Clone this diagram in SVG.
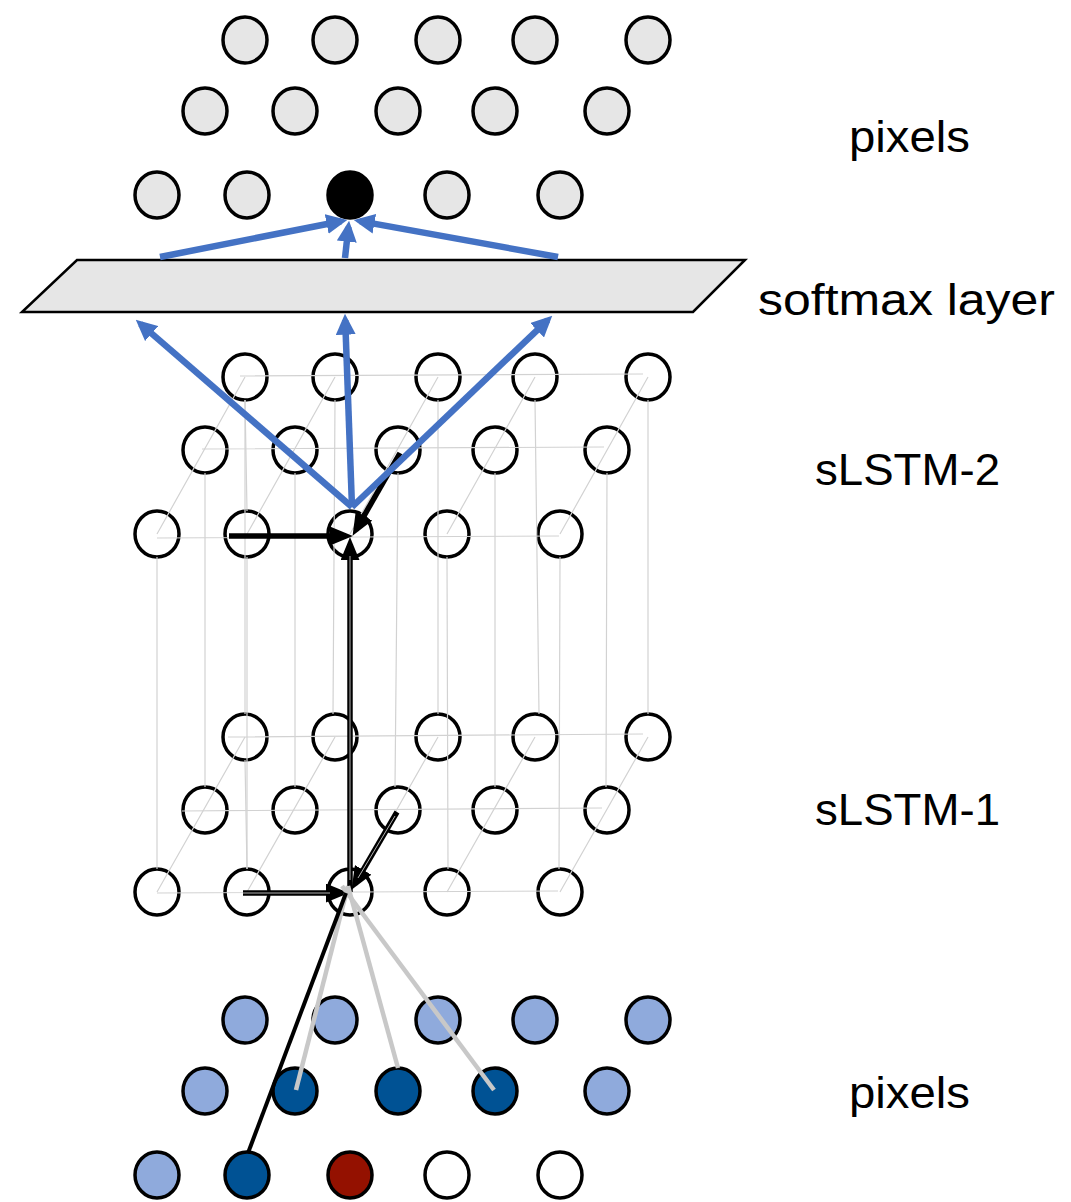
<svg xmlns="http://www.w3.org/2000/svg" width="1071" height="1202" viewBox="0 0 1071 1202">
  <style>
    .node { stroke: #000; stroke-width: 3.5; }
    .px { fill: #e6e6e6; }
    .tgt { fill: #000; }
    .cell { fill: none; }
    .lt { fill: #8faadc; }
    .dk { fill: #005294; }
    .red { fill: #941100; }
    .wh { fill: #fff; }
    .grid { stroke: #d2d2d2; stroke-width: 1.2; fill: none; }
    .blue { stroke: #4472c4; stroke-width: 6.5; fill: none; marker-end: url(#head-blue); }
    .blk { stroke: #000; stroke-width: 5.5; fill: none; marker-end: url(#head-black); }
    .stripe { stroke: #e0e0e0; stroke-width: 0.8; fill: none; }
    .dep-black { stroke: #000; stroke-width: 4; }
    .dep-gray { stroke: #c8c8c8; stroke-width: 4.5; }
    .label { font-family: "Liberation Sans", Arial, sans-serif; font-size: 45px; fill: #000; }
  </style>
  <defs>
    <marker id="head-blue" viewBox="0 0 10 10" refX="7" refY="5" markerUnits="userSpaceOnUse" markerWidth="21" markerHeight="20" orient="auto" preserveAspectRatio="none">
      <path d="M0,0 L10,5 L0,10 z" fill="#4472c4"/>
    </marker>
    <marker id="head-black" viewBox="0 0 10 10" refX="7" refY="5" markerUnits="userSpaceOnUse" markerWidth="23" markerHeight="19" orient="auto" preserveAspectRatio="none">
      <path d="M0,0 L10,5 L0,10 z" fill="#000"/>
    </marker>
  </defs>

  <!-- output pixels -->
  <g id="top-pixels">
    <g id="top-a1"><ellipse class="node px" cx="245" cy="40" rx="22" ry="23"/></g>
    <g id="top-a2"><ellipse class="node px" cx="335" cy="40" rx="22" ry="23"/></g>
    <g id="top-a3"><ellipse class="node px" cx="438" cy="40" rx="22" ry="23"/></g>
    <g id="top-a4"><ellipse class="node px" cx="535" cy="40" rx="22" ry="23"/></g>
    <g id="top-a5"><ellipse class="node px" cx="648" cy="40" rx="22" ry="23"/></g>
    <g id="top-b1"><ellipse class="node px" cx="205" cy="111" rx="22" ry="23"/></g>
    <g id="top-b2"><ellipse class="node px" cx="295" cy="111" rx="22" ry="23"/></g>
    <g id="top-b3"><ellipse class="node px" cx="398" cy="111" rx="22" ry="23"/></g>
    <g id="top-b4"><ellipse class="node px" cx="495" cy="111" rx="22" ry="23"/></g>
    <g id="top-b5"><ellipse class="node px" cx="607" cy="111" rx="22" ry="23"/></g>
    <g id="top-c1"><ellipse class="node px" cx="157" cy="195" rx="22" ry="23"/></g>
    <g id="top-c2"><ellipse class="node px" cx="247" cy="195" rx="22" ry="23"/></g>
    <g id="top-c3"><ellipse class="node tgt" cx="350" cy="195" rx="22" ry="23"/></g>
    <g id="top-c4"><ellipse class="node px" cx="447" cy="195" rx="22" ry="23"/></g>
    <g id="top-c5"><ellipse class="node px" cx="560" cy="195" rx="22" ry="23"/></g>
  </g>

  <!-- softmax plane -->
  <g id="softmax">
    <polygon points="77,260 745,260 693,312 22,312" fill="#e6e6e6" stroke="#000" stroke-width="2.5" stroke-linejoin="miter"/>
  </g>

  <!-- sLSTM-2 cells -->
  <g id="lstm2">
    <g id="l2-a1"><ellipse class="node cell" cx="245" cy="377" rx="22" ry="23"/></g>
    <g id="l2-a2"><ellipse class="node cell" cx="335" cy="377" rx="22" ry="23"/></g>
    <g id="l2-a3"><ellipse class="node cell" cx="438" cy="377" rx="22" ry="23"/></g>
    <g id="l2-a4"><ellipse class="node cell" cx="535" cy="377" rx="22" ry="23"/></g>
    <g id="l2-a5"><ellipse class="node cell" cx="648" cy="377" rx="22" ry="23"/></g>
    <g id="l2-b1"><ellipse class="node cell" cx="205" cy="450" rx="22" ry="23"/></g>
    <g id="l2-b2"><ellipse class="node cell" cx="295" cy="450" rx="22" ry="23"/></g>
    <g id="l2-b3"><ellipse class="node cell" cx="398" cy="450" rx="22" ry="23"/></g>
    <g id="l2-b4"><ellipse class="node cell" cx="495" cy="450" rx="22" ry="23"/></g>
    <g id="l2-b5"><ellipse class="node cell" cx="607" cy="450" rx="22" ry="23"/></g>
    <g id="l2-c1"><ellipse class="node cell" cx="157" cy="534" rx="22" ry="23"/></g>
    <g id="l2-c2"><ellipse class="node cell" cx="247" cy="534" rx="22" ry="23"/></g>
    <g id="l2-c3"><ellipse class="node cell" cx="350" cy="534" rx="22" ry="23" stroke-width="2.2"/></g>
    <g id="l2-c4"><ellipse class="node cell" cx="447" cy="534" rx="22" ry="23"/></g>
    <g id="l2-c5"><ellipse class="node cell" cx="560" cy="534" rx="22" ry="23"/></g>
  </g>

  <!-- sLSTM-1 cells -->
  <g id="lstm1">
    <g id="l1-a1"><ellipse class="node cell" cx="245" cy="737" rx="22" ry="23"/></g>
    <g id="l1-a2"><ellipse class="node cell" cx="335" cy="737" rx="22" ry="23"/></g>
    <g id="l1-a3"><ellipse class="node cell" cx="438" cy="737" rx="22" ry="23"/></g>
    <g id="l1-a4"><ellipse class="node cell" cx="535" cy="737" rx="22" ry="23"/></g>
    <g id="l1-a5"><ellipse class="node cell" cx="648" cy="737" rx="22" ry="23"/></g>
    <g id="l1-b1"><ellipse class="node cell" cx="205" cy="810" rx="22" ry="23"/></g>
    <g id="l1-b2"><ellipse class="node cell" cx="295" cy="810" rx="22" ry="23"/></g>
    <g id="l1-b3"><ellipse class="node cell" cx="398" cy="810" rx="22" ry="23"/></g>
    <g id="l1-b4"><ellipse class="node cell" cx="495" cy="810" rx="22" ry="23"/></g>
    <g id="l1-b5"><ellipse class="node cell" cx="607" cy="810" rx="22" ry="23"/></g>
    <g id="l1-c1"><ellipse class="node cell" cx="157" cy="892" rx="22" ry="23"/></g>
    <g id="l1-c2"><ellipse class="node cell" cx="247" cy="892" rx="22" ry="23"/></g>
    <g id="l1-c3"><ellipse class="node cell" cx="350" cy="892" rx="22" ry="23" stroke-width="2.2"/></g>
    <g id="l1-c4"><ellipse class="node cell" cx="447" cy="892" rx="22" ry="23"/></g>
    <g id="l1-c5"><ellipse class="node cell" cx="560" cy="892" rx="22" ry="23"/></g>
  </g>

  <!-- input pixels -->
  <g id="in-pixels">
    <g id="in-a1"><ellipse class="node lt" cx="245" cy="1020" rx="22" ry="23"/></g>
    <g id="in-a2"><ellipse class="node lt" cx="335" cy="1020" rx="22" ry="23"/></g>
    <g id="in-a3"><ellipse class="node lt" cx="438" cy="1020" rx="22" ry="23"/></g>
    <g id="in-a4"><ellipse class="node lt" cx="535" cy="1020" rx="22" ry="23"/></g>
    <g id="in-a5"><ellipse class="node lt" cx="648" cy="1020" rx="22" ry="23"/></g>
    <g id="in-b1"><ellipse class="node lt" cx="205" cy="1091" rx="22" ry="23"/></g>
    <g id="in-b2"><ellipse class="node dk" cx="295" cy="1091" rx="22" ry="23"/></g>
    <g id="in-b3"><ellipse class="node dk" cx="398" cy="1091" rx="22" ry="23"/></g>
    <g id="in-b4"><ellipse class="node dk" cx="495" cy="1091" rx="22" ry="23"/></g>
    <g id="in-b5"><ellipse class="node lt" cx="607" cy="1091" rx="22" ry="23"/></g>
    <g id="in-c1"><ellipse class="node lt" cx="157" cy="1175" rx="22" ry="23"/></g>
    <g id="in-c2"><ellipse class="node dk" cx="247" cy="1175" rx="22" ry="23"/></g>
    <g id="in-c3"><ellipse class="node red" cx="350" cy="1175" rx="22" ry="23"/></g>
    <g id="in-c4"><ellipse class="node wh" cx="447" cy="1175" rx="22" ry="23"/></g>
    <g id="in-c5"><ellipse class="node wh" cx="560" cy="1175" rx="22" ry="23"/></g>
  </g>

  <g id="connectors">
    <!-- cell grids -->
    <g id="grid">
      <path class="grid" d="M240,376 L643,374 M202,449 L604,447 M157,538 L559,536"/>
      <path class="grid" d="M157,534 L245,377 M247,534 L335,377 M350,534 L438,377 M447,534 L535,377 M560,534 L648,377"/>
      <path class="grid" d="M245,400 L247,511 M245,760 L247,869"/>
      <path class="grid" d="M228,737 L643,734 M182,811 L602,808 M157,893 L558,891"/>
      <path class="grid" d="M157,892 L245,737 M247,892 L335,737 M350,892 L438,737 M447,892 L535,737 M560,892 L648,737"/>
      <path class="grid" d="M245,400 L245,714 M335,400 L333,714 M438,400 L438,714 M535,400 L539,714 M648,400 L648,714"/>
      <path class="grid" d="M205,473 L205,787 M295,473 L295,787 M398,473 L395,787 M495,473 L495,787 M607,473 L606,787"/>
      <path class="grid" d="M157,557 L157,869 M247,557 L247,869 M350,557 L350,869 M447,557 L448,869 M560,557 L559,869"/>
    </g>

    <!-- recurrent and layer-to-layer flows -->
    <g id="state-arrows">
      <line class="blk" x1="229" y1="536" x2="346" y2="536"/>
      <line class="blk" x1="400" y1="453" x2="356" y2="529.8"/>
      <line class="blk" x1="350" y1="892" x2="350" y2="544"/>
      <line class="blk" x1="243" y1="893" x2="342" y2="893"/>
      <line class="blk" x1="397" y1="812" x2="355" y2="883.8"/>
      <path class="stripe" d="M350,880 L350,556 M243,893 L330,893 M395,816 L358,878"/>
    </g>

    <!-- inputs feeding the first cell -->
    <g id="input-links">
      <line class="dep-gray" x1="348" y1="886" x2="296" y2="1090"/>
      <line class="dep-gray" x1="348" y1="886" x2="398" y2="1068"/>
      <line class="dep-gray" x1="342" y1="886" x2="494" y2="1090"/>
      <line class="dep-black" x1="346" y1="893" x2="248" y2="1153"/>
    </g>

    <!-- softmax in and out -->
    <g id="softmax-links">
      <line class="blue" x1="352" y1="507" x2="140.5" y2="323.9"/>
      <line class="blue" x1="352" y1="507" x2="345.2" y2="320"/>
      <line class="blue" x1="352" y1="507" x2="547.7" y2="320.1"/>
      <line class="blue" x1="160" y1="257" x2="341.1" y2="221.2"/>
      <line class="blue" x1="345" y1="258" x2="348.4" y2="227"/>
      <line class="blue" x1="558" y1="257" x2="359.9" y2="221.1"/>
    </g>
  </g>

  <!-- labels -->
  <g id="labels">
    <text class="label" x="849" y="152" textLength="121" lengthAdjust="spacingAndGlyphs">pixels</text>
    <text class="label" x="758" y="315" textLength="297" lengthAdjust="spacingAndGlyphs">softmax layer</text>
    <text class="label" x="815" y="485" textLength="185" lengthAdjust="spacingAndGlyphs">sLSTM-2</text>
    <text class="label" x="815" y="825" textLength="185" lengthAdjust="spacingAndGlyphs">sLSTM-1</text>
    <text class="label" x="849" y="1108" textLength="121" lengthAdjust="spacingAndGlyphs">pixels</text>
  </g>
</svg>
